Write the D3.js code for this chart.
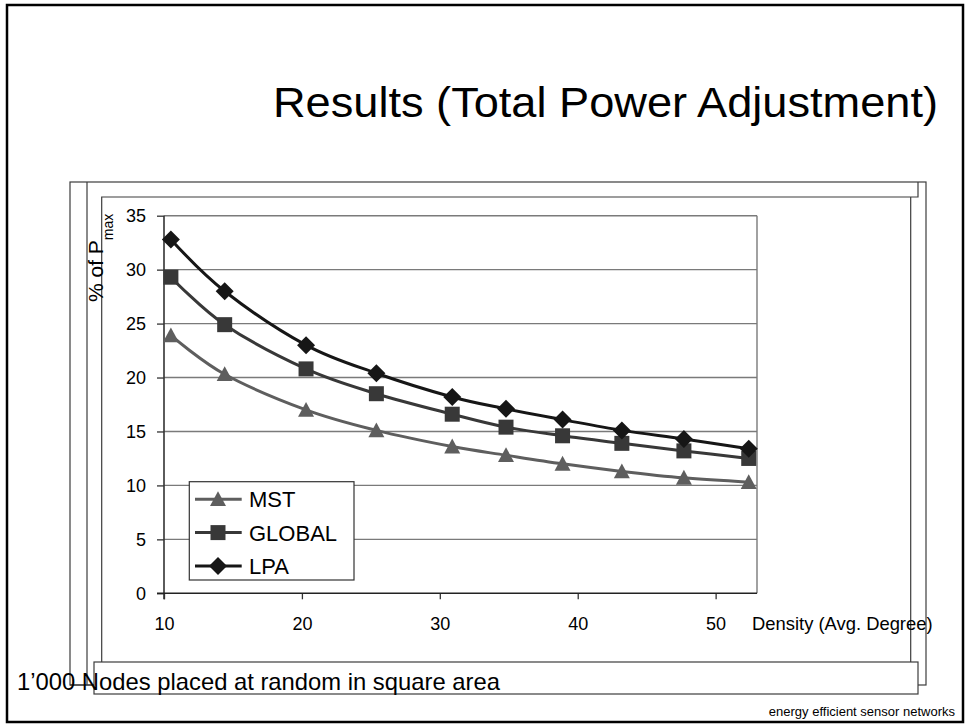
<!DOCTYPE html>
<meta charset="utf-8">
<style>

body {
  margin: 0;
  background: #fff;
  font-family: "Liberation Sans", Arial, Helvetica, sans-serif;
}

.frame {
  fill: none;
  stroke: #3c3c3c;
  stroke-width: 1.2;
}

.axis text {
  font: 18px "Liberation Sans", Arial, sans-serif;
  fill: #000;
}

.axis line {
  stroke: #333;
  stroke-width: 1.3;
}

.grid {
  stroke: #7a7a7a;
  stroke-width: 1.4;
}

.series {
  fill: none;
  stroke-width: 3;
}

</style>
<body>
<svg width="967" height="724"></svg>
<script src="https://cdnjs.cloudflare.com/ajax/libs/d3/7.8.5/d3.min.js"></script>
<script>

// density (avg. degree) on the x axis, % of Pmax on the y axis
var density = [10.5, 14.4, 20.3, 25.4, 30.9, 34.8, 38.9, 43.2, 47.7, 52.4];
var mst    = [23.9, 20.3, 17.0, 15.1, 13.6, 12.8, 12.0, 11.3, 10.7, 10.3];
var global = [29.3, 24.9, 20.8, 18.5, 16.6, 15.4, 14.6, 13.9, 13.2, 12.5];
var lpa    = [32.8, 28.0, 23.0, 20.4, 18.2, 17.1, 16.1, 15.1, 14.3, 13.4];

var seriesNames = ["MST", "GLOBAL", "LPA"];
var xTicks = [10, 20, 30, 40, 50];
var yTicks = [0, 5, 10, 15, 20, 25, 30, 35];

var svg = d3.select("svg");

var x = d3.scaleLinear().domain([10, 53]).range([164, 757]),
    y = d3.scaleLinear().domain([0, 35]).range([593.3, 215.7]);

// slide border + the stacked placeholder boxes behind the chart
svg.append("rect").attr("x", 7).attr("y", 5).attr("width", 956).attr("height", 717)
    .attr("fill", "none").attr("stroke", "#000").attr("stroke-width", 2.5);

var fr = svg.append("g").attr("class", "frame");
fr.append("rect").attr("x", 70).attr("y", 182).attr("width", 856).attr("height", 503);
fr.append("line").attr("x1", 87).attr("x2", 87).attr("y1", 182).attr("y2", 685);
fr.append("path").attr("d", "M918,182V197H101.7V662");
fr.append("line").attr("x1", 910.7).attr("x2", 910.7).attr("y1", 197).attr("y2", 662);

// title
svg.append("text")
    .attr("x", 273).attr("y", 117)
    .attr("textLength", 665)
    .attr("lengthAdjust", "spacingAndGlyphs")
    .style("font-size", "42px")
    .text("Results (Total Power Adjustment)");

// gridlines
svg.append("g").selectAll("line")
    .data(yTicks.filter(function(d) { return d > 0; }))
  .enter().append("line")
    .attr("class", "grid")
    .attr("x1", x(10)).attr("x2", x(53))
    .attr("y1", function(d) { return y(d); })
    .attr("y2", function(d) { return y(d); });

svg.append("line").attr("class", "grid")
    .attr("x1", x(53)).attr("x2", x(53))
    .attr("y1", y(35)).attr("y2", y(0));

// axes
var yAxis = svg.append("g")
    .attr("class", "axis")
    .attr("transform", "translate(" + x(10) + ",0)")
    .call(d3.axisLeft(y).tickValues(yTicks).tickSize(7).tickPadding(11));
yAxis.select(".domain").remove();

var xAxis = svg.append("g")
    .attr("class", "axis")
    .attr("transform", "translate(0," + y(0) + ")")
    .call(d3.axisBottom(x).tickValues(xTicks).tickSize(6).tickPadding(18));
xAxis.select(".domain").remove();

svg.append("line")
    .attr("x1", x(10)).attr("x2", x(10))
    .attr("y1", y(35)).attr("y2", y(0) + 6)
    .attr("stroke", "#333").attr("stroke-width", 1.6);
svg.append("line")
    .attr("x1", x(10) - 7).attr("x2", x(53))
    .attr("y1", y(0)).attr("y2", y(0))
    .attr("stroke", "#222").attr("stroke-width", 1.6);

svg.append("text")
    .attr("x", 752).attr("y", 630)
    .style("font-size", "18.4px")
    .text("Density (Avg. Degree)");

var yl = svg.append("text")
    .attr("transform", "translate(103,302) rotate(-90)")
    .style("font-size", "21px");
yl.append("tspan").text("% of P");
yl.append("tspan").attr("dy", 10).style("font-size", "14px").text("max");

// series
var colors = {MST: "#5e5e5e", GLOBAL: "#383838", LPA: "#161616"};
var values = {MST: mst, GLOBAL: global, LPA: lpa};

function marker(name, s) {
  if (name === "LPA") {
    s = s || 9;
    return "M0," + (-s) + "L" + s + ",0L0," + s + "L" + (-s) + ",0Z";
  }
  if (name === "GLOBAL") {
    s = s || 7.5;
    return "M" + (-s) + "," + (-s) + "H" + s + "V" + s + "H" + (-s) + "Z";
  }
  s = s || 8;
  return "M0," + (-s) + "L" + s + "," + (s * 0.85) + "L" + (-s) + "," + (s * 0.85) + "Z";
}

var line = d3.line()
    .x(function(d) { return x(d[0]); })
    .y(function(d) { return y(d[1]); })
    .curve(d3.curveCardinal.tension(0));

seriesNames.forEach(function(name) {
  var pts = density.map(function(d, i) { return [d, values[name][i]]; });
  var g = svg.append("g");
  g.append("path")
      .attr("class", "series")
      .attr("stroke", colors[name])
      .attr("d", line(pts));
  g.selectAll("path.mk")
      .data(pts)
    .enter().append("path")
      .attr("class", "mk")
      .attr("fill", colors[name])
      .attr("transform", function(d) { return "translate(" + x(d[0]) + "," + y(d[1]) + ")"; })
      .attr("d", marker(name));
});

// legend
var lg = svg.append("g");
lg.append("rect")
    .attr("x", 189.3).attr("y", 481.7).attr("width", 164.7).attr("height", 98.3)
    .attr("fill", "#fff").attr("stroke", "#333").attr("stroke-width", 1.2);

var row = lg.selectAll("g.row")
    .data(seriesNames)
  .enter().append("g")
    .attr("class", "row")
    .attr("transform", function(d, i) { return "translate(0," + (499.3 + i * 33.3) + ")"; });
row.append("line")
    .attr("x1", 195).attr("x2", 241.7)
    .attr("stroke", function(d) { return colors[d]; })
    .attr("stroke-width", 3);
row.append("path")
    .attr("transform", "translate(218,0)")
    .attr("fill", function(d) { return colors[d]; })
    .attr("d", function(d) { return marker(d); });
row.append("text")
    .attr("x", 249).attr("y", 8)
    .style("font-size", "22px")
    .text(function(d) { return d; });

// text box at the bottom
svg.append("rect")
    .attr("x", 94).attr("y", 662).attr("width", 824).attr("height", 32)
    .attr("fill", "#fff").attr("stroke", "#3c3c3c").attr("stroke-width", 1.2);
svg.append("path").attr("class", "frame").attr("d", "M70,685H94");

svg.append("text")
    .attr("x", 17).attr("y", 690)
    .style("font-size", "23.8px")
    .text("1\u2019000 Nodes placed at random in square area");

svg.append("text")
    .attr("x", 955).attr("y", 716)
    .attr("text-anchor", "end")
    .style("font-size", "13px")
    .text("energy efficient sensor networks");

</script>
</body>
